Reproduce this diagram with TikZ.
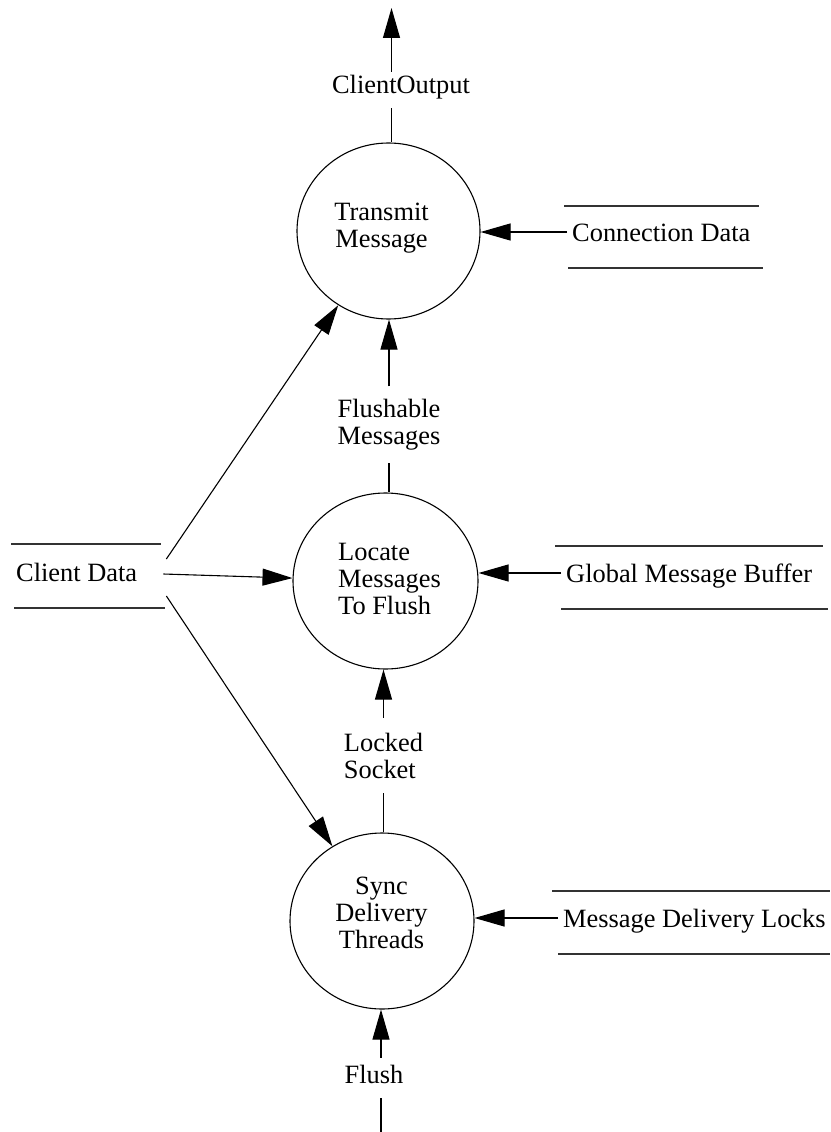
\documentclass[tikz,border=0pt]{standalone}
\usepackage{fontspec}
\setmainfont{Liberation Serif}
\usetikzlibrary{arrows.meta,shapes.geometric,calc}
\begin{document}
\begin{tikzpicture}[x=1pt,y=-1pt,
  every node/.style={font=\fontsize{26.4}{27}\selectfont},
  proc/.style={ellipse, draw, line width=1.1pt, inner sep=0pt},
  proctext/.style={align=center, inner sep=0pt},
  flowlabel/.style={align=left, inner xsep=0pt},
  storetext/.style={anchor=base west, inner xsep=5pt, inner ysep=0pt,
                    text height=18pt, text depth=0pt},
  storeline/.style={line width=1.4pt, black!80},
  flow/.style={line width=1.1pt, -{Triangle[length=30pt,width=17pt]}},
  plain/.style={line width=1.1pt}]

\useasboundingbox (0,0) rectangle (830,1132);

% processes
\node[proc, minimum width=183pt, minimum height=176pt] (transmit) at (388.5,231) {};
\node[proctext] (transmit-t) at (381.5,228) {Transmit\\Message};
\node[proc, minimum width=185pt, minimum height=176pt] (locate) at (385.5,581) {};
\node[proctext, align=left, anchor=west] (locate-t) at (338,579) {Locate\\Messages\\To Flush};
\node[proc, minimum width=184pt, minimum height=176pt] (sync) at (382,921) {};
\node[proctext] (sync-t) at (381.5,912.5) {Sync\\Delivery\\Threads};

% data stores
\node[storetext] (conn) at (567,241) {Connection Data};
\draw[storeline] (564,206) -- (759,206) (568,268) -- (763,268);
\node[storetext] (gmb) at (561,582) {Global Message Buffer};
\draw[storeline] (555,546) -- (823,546) (561,609) -- (828,609);
\node[storetext] (mdl) at (558,927) {Message Delivery Locks};
\draw[storeline] (552,891) -- (830,891) (558,954) -- (830,954);
\node[storetext] (cd) at (11,581) {Client Data};
\draw[storeline] (11,544) -- (161,544) (14,608) -- (165,608);

% flows out of the stores
\draw[flow] (conn.west) -- (conn.west -| transmit.east);
\draw[flow] (gmb.west) -- (gmb.west -| locate.east);
\draw[flow] (mdl.west) -- (mdl.west -| sync.east);
\draw[flow] ($(cd.east)+(24,-13)$) -- (transmit);
\draw[flow] ($(cd.east)+(21,2)$) -- (locate);
\draw[flow] ($(cd.east)+(24,24)$) -- (sync);

% client output
\coordinate (out-end) at (391.5,8);
\node[flowlabel, text height=18pt, text depth=12pt, inner ysep=3pt, anchor=base] (co) at (401,93) {ClientOutput};
\draw[plain] (out-end |- transmit.north) -- (out-end |- co.south);
\draw[flow] (out-end |- co.north) -- (out-end);

% flushable messages
\node[flowlabel, align=center, inner ysep=12.5pt] (fm) at (389,424.5) {Flushable\\Messages};
\draw[plain] (locate.north -| fm.south) -- (fm.south);
\draw[flow] (fm.north) -- (fm.north |- transmit.south);

% locked socket
\node[flowlabel, align=left, inner ysep=15pt] (ls) at (383.5,755.5) {Locked\\Socket};
\draw[plain] (sync.north -| ls.south) -- (ls.south);
\draw[flow] (ls.north) -- (ls.north |- locate.south);

% flush
\coordinate (flush-end) at (381,1132);
\node[flowlabel, text height=22pt, text depth=12pt, inner ysep=3pt, anchor=base] (fl) at (374,1083) {Flush};
\draw[plain] (flush-end) -- (flush-end |- fl.south);
\draw[flow] (flush-end |- fl.north) -- (flush-end |- sync.south);
\end{tikzpicture}
\end{document}
